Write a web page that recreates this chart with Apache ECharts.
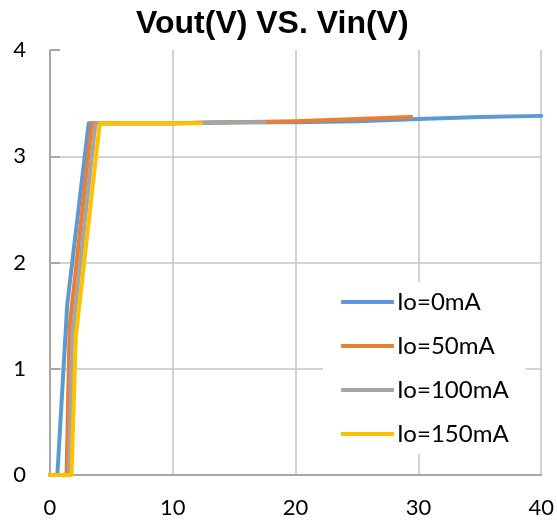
<!DOCTYPE html>
<html>
<head>
<meta charset="utf-8">
<script src="https://cdn.jsdelivr.net/npm/echarts@6/dist/echarts.min.js"></script>
<style>
  html, body { margin: 0; padding: 0; background: #fff; }
  #chart { width: 557px; height: 527px; }
</style>
</head>
<body>
<div id="chart"></div>
<script>
// Vin (V) / Vout (V) pairs
var names = ['Io=0mA', 'Io=50mA', 'Io=100mA', 'Io=150mA'];
var colors = ['#5B9BD5', '#ED7D31', '#A5A5A5', '#FFC000'];

var vin0 = [0, 0.6, 1.4, 3.15, 5, 10, 15, 20, 25, 30, 35, 40];
var vout0 = [0, 0, 1.6, 3.31, 3.31, 3.31, 3.32, 3.32, 3.33, 3.35, 3.37, 3.38];

var vin50 = [0, 1.35, 1.6, 3.4, 5, 10, 15, 20, 25, 29.4];
var vout50 = [0, 0, 1.4, 3.31, 3.31, 3.31, 3.32, 3.33, 3.35, 3.37];

var vin100 = [0, 1.55, 1.8, 3.7, 5, 10, 15, 17.5];
var vout100 = [0, 0, 1.3, 3.31, 3.31, 3.31, 3.32, 3.32];

var vin150 = [0, 1.75, 2.1, 4.05, 5, 10, 12.3];
var vout150 = [0, 0, 1.3, 3.31, 3.31, 3.31, 3.31];

var xTicks = [0, 10, 20, 30, 40];
var yTicks = [0, 1, 2, 3, 4];

function pairs(xs, ys) {
    var out = [];
    for (var i = 0; i < xs.length; i++) out.push([xs[i], ys[i]]);
    return out;
}

var allData = [pairs(vin0, vout0), pairs(vin50, vout50), pairs(vin100, vout100), pairs(vin150, vout150)];

var series = [];
for (var i = 0; i < names.length; i++) {
    series.push({
        name: names[i],
        type: 'line',
        data: allData[i],
        symbol: 'none',
        smooth: false,
        animation: false,
        lineStyle: { width: 4, color: colors[i], cap: 'round', join: 'round' },
        itemStyle: { color: colors[i] }
    });
}

var myChart = echarts.init(document.getElementById('chart'));
var option = {
    backgroundColor: '#fff',
    animation: false,
    title: {
        text: 'Vout(V) VS. Vin(V)',
        left: 131,
        top: 3,
        textStyle: {
            fontFamily: 'Liberation Sans',
            fontWeight: 'bold',
            fontSize: 32,
            color: '#000'
        }
    },
    legend: {
        data: names,
        orient: 'vertical',
        left: 323,
        top: 282,
        backgroundColor: '#fff',
        padding: [8, 17, 8, 18],
        icon: 'roundRect',
        itemWidth: 53,
        itemHeight: 4,
        itemGap: 20,
        textStyle: {
            fontFamily: 'Lato',
            fontSize: 24,
            color: '#000',
            padding: [0, 0, 0, -2]
        }
    },
    grid: {
        left: 50,
        right: 15,
        top: 50,
        bottom: 52
    },
    xAxis: {
        type: 'value',
        min: xTicks[0],
        max: xTicks[xTicks.length - 1],
        interval: 10,
        axisLine: { show: true, onZero: false, lineStyle: { color: '#a6a6a6', width: 2 } },
        axisTick: { show: false },
        axisLabel: {
            margin: 22,
            fontFamily: 'Lato',
            fontSize: 22,
            color: '#000'
        },
        splitLine: { show: true, lineStyle: { color: '#c4c4c4', width: 1.5 } }
    },
    yAxis: {
        type: 'value',
        min: yTicks[0],
        max: yTicks[yTicks.length - 1],
        interval: 1,
        axisLine: { show: true, onZero: false, lineStyle: { color: '#a6a6a6', width: 2 } },
        axisTick: { show: true, inside: true, length: 10, lineStyle: { color: '#a6a6a6', width: 2 } },
        axisLabel: {
            margin: 24,
            fontFamily: 'Lato',
            fontSize: 22,
            color: '#000'
        },
        splitLine: { show: true, showMaxLine: false, lineStyle: { color: '#c4c4c4', width: 1.5 } }
    },
    series: series
};
myChart.setOption(option, true);
</script>
</body>
</html>
